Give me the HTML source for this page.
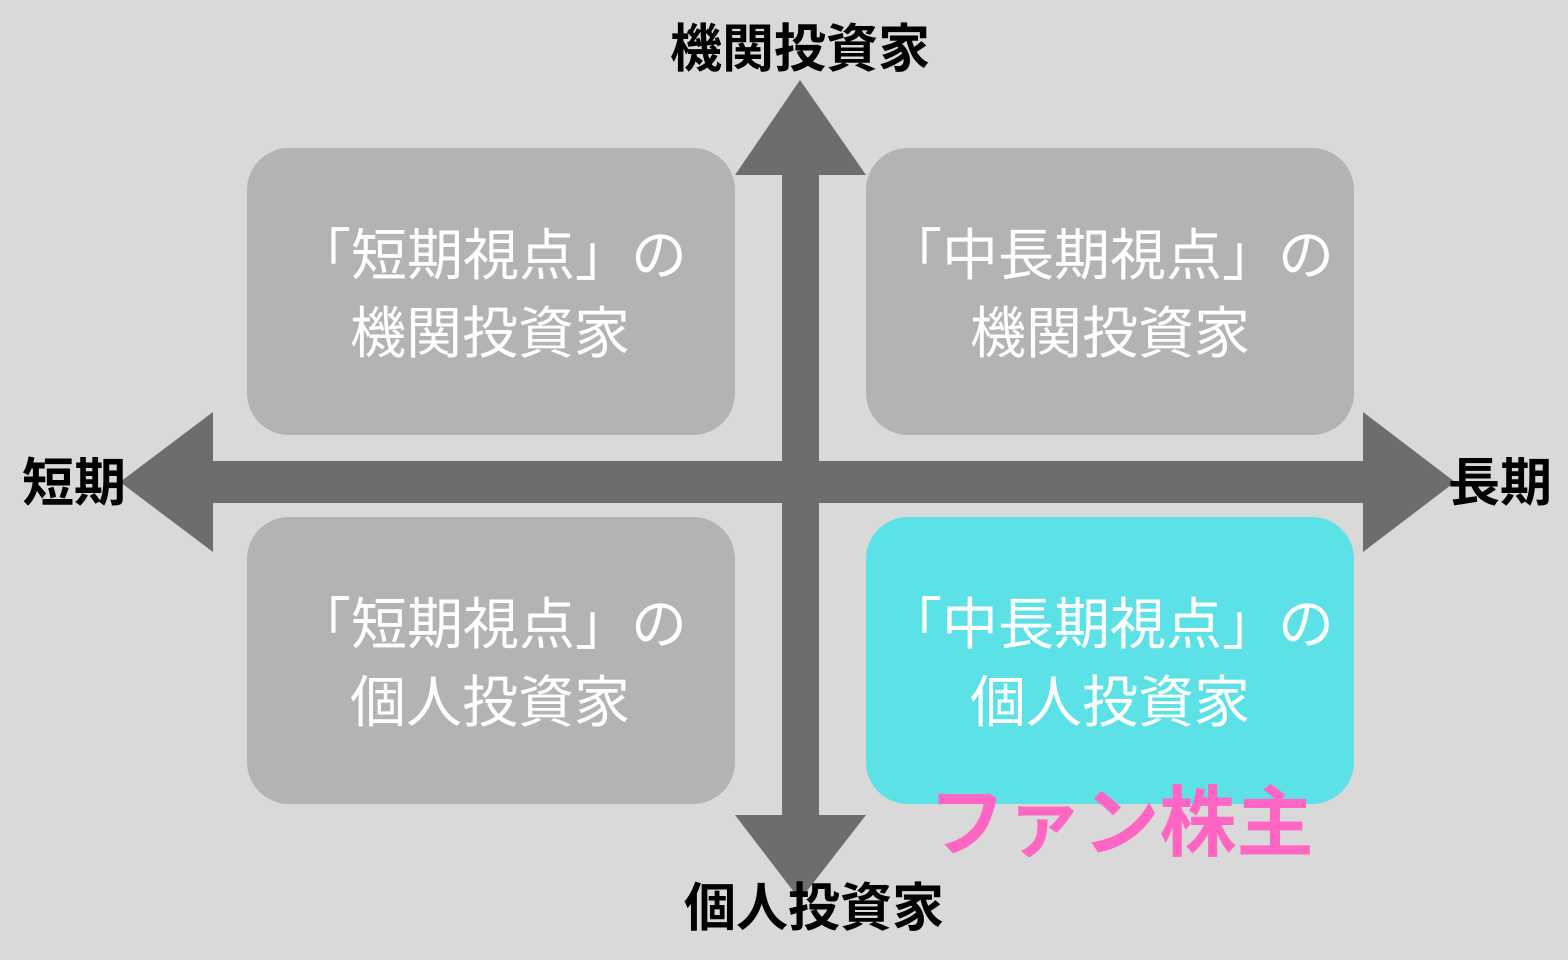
<!DOCTYPE html>
<html><head><meta charset="utf-8"><style>
html,body{margin:0;padding:0;background:#d9d9d9;}
svg{display:block;}
text{font-family:"Liberation Sans","Noto Sans CJK JP",sans-serif;}
</style></head><body>
<svg width="1568" height="960" viewBox="0 0 1568 960" xmlns="http://www.w3.org/2000/svg">
<rect width="1568" height="960" fill="#d9d9d9"/>
<rect x="247" y="148" width="488" height="287" rx="42" fill="#b3b3b3"/>
<rect x="866" y="148" width="488" height="287" rx="42" fill="#b3b3b3"/>
<rect x="247" y="517" width="488" height="287" rx="42" fill="#b3b3b3"/>
<rect x="866" y="517" width="488" height="287" rx="42" fill="#5ce1e6"/>
<g fill="#6d6d6b">
<rect x="782" y="170" width="37" height="650"/>
<polygon points="800,80 866,175 735,175"/>
<polygon points="735,815 866,815 800,900"/>
<rect x="207" y="461" width="1163" height="42"/>
<polygon points="120,482 213,412 213,552"/>
<polygon points="1363,412 1455,482 1363,552"/>
</g>
<g fill="#ffffff" font-size="56" text-anchor="middle">
<text x="491" y="275">「短期視点」の</text>
<text x="490" y="353">機関投資家</text>
<text x="1110" y="275">「中長期視点」の</text>
<text x="1110" y="353">機関投資家</text>
<text x="491" y="644">「短期視点」の</text>
<text x="490" y="722">個人投資家</text>
<text x="1110" y="644">「中長期視点」の</text>
<text x="1110" y="722">個人投資家</text>
</g>
<g fill="#000" font-weight="bold" font-size="52" text-anchor="middle">
<text x="800" y="67">機関投資家</text>
<text x="814" y="926">個人投資家</text>
<text x="74" y="501">短期</text>
<text x="1500" y="501">長期</text>
</g>
<text x="1121" y="850" fill="#ff66c4" font-weight="bold" font-size="77" text-anchor="middle">ファン株主</text>
</svg>
</body></html>
